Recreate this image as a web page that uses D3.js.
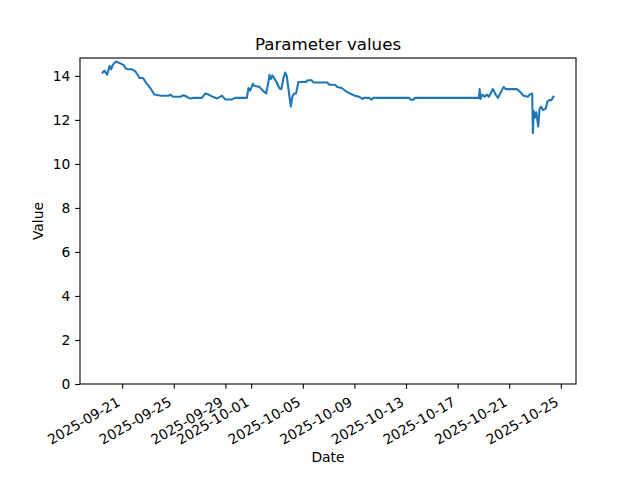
<!DOCTYPE html>
<html><head><meta charset="utf-8">
<script src="https://cdn.jsdelivr.net/npm/d3@7"></script>
<style>body{margin:0;background:#fff}svg{display:block}text{font-family:"DejaVu Sans",sans-serif;fill:#000}</style>
</head><body><svg id="c" width="640" height="480"></svg>
<script>
const dates = ["2025-09-19T11:30","2025-09-19T15:00","2025-09-19T20:00","2025-09-20T00:30","2025-09-20T03:30","2025-09-20T06:30","2025-09-20T12:00","2025-09-20T19:30","2025-09-21T03:00","2025-09-21T06:40","2025-09-21T10:20","2025-09-21T18:30","2025-09-22T00:40","2025-09-22T08:40","2025-09-22T15:00","2025-09-22T21:00","2025-09-23T04:30","2025-09-23T12:00","2025-09-24T00:20","2025-09-24T14:30","2025-09-24T17:40","2025-09-24T22:40","2025-09-25T12:10","2025-09-25T18:20","2025-09-26T00:40","2025-09-26T06:40","2025-09-26T12:50","2025-09-27T04:30","2025-09-27T10:40","2025-09-27T16:40","2025-09-27T23:00","2025-09-28T08:20","2025-09-28T17:40","2025-09-28T23:40","2025-09-29T12:10","2025-09-29T18:20","2025-09-30T16:00","2025-09-30T19:00","2025-09-30T22:10","2025-10-01T03:10","2025-10-01T05:30","2025-10-01T15:20","2025-10-01T21:40","2025-10-02T03:50","2025-10-02T08:10","2025-10-02T10:00","2025-10-02T12:30","2025-10-02T15:30","2025-10-02T18:40","2025-10-02T23:40","2025-10-03T04:30","2025-10-03T08:10","2025-10-03T12:00","2025-10-03T15:10","2025-10-03T18:10","2025-10-03T22:00","2025-10-04T01:40","2025-10-04T04:40","2025-10-04T07:50","2025-10-04T11:30","2025-10-04T15:50","2025-10-04T19:00","2025-10-05T06:10","2025-10-05T09:10","2025-10-05T16:40","2025-10-05T19:40","2025-10-06T21:40","2025-10-07T01:20","2025-10-07T12:00","2025-10-07T16:10","2025-10-08T00:20","2025-10-08T08:20","2025-10-08T15:50","2025-10-09T01:00","2025-10-09T09:00","2025-10-09T15:20","2025-10-09T17:40","2025-10-10T03:30","2025-10-10T08:00","2025-10-10T11:00","2025-10-13T05:50","2025-10-13T08:30","2025-10-13T14:30","2025-10-13T16:30","2025-10-18T15:50","2025-10-18T17:00","2025-10-18T18:30","2025-10-18T22:00","2025-10-19T02:20","2025-10-19T06:40","2025-10-19T10:20","2025-10-19T17:40","2025-10-19T22:50","2025-10-20T03:10","2025-10-20T09:20","2025-10-20T13:40","2025-10-20T17:20","2025-10-20T21:40","2025-10-21T14:20","2025-10-21T19:20","2025-10-22T02:40","2025-10-22T10:40","2025-10-22T13:50","2025-10-22T18:50","2025-10-22T20:00","2025-10-22T21:50","2025-10-22T23:50","2025-10-23T02:20","2025-10-23T06:00","2025-10-23T08:30","2025-10-23T11:30","2025-10-23T14:40","2025-10-23T19:40","2025-10-23T23:20","2025-10-24T03:00","2025-10-24T06:40","2025-10-24T10:20"];
const values = [14.15,14.24,14.05,14.45,14.3,14.5,14.65,14.58,14.49,14.33,14.3,14.3,14.2,13.9,13.9,13.67,13.44,13.15,13.1,13.1,13.15,13.05,13.05,13.12,13.05,12.97,13.0,13.0,13.2,13.15,13.07,12.97,13.1,12.93,12.93,13.0,13.0,13.45,13.33,13.64,13.55,13.5,13.33,13.2,13.74,14.05,13.85,14.02,13.9,13.7,13.44,13.4,13.9,14.15,14.0,13.29,12.6,13.06,13.2,13.2,13.72,13.72,13.72,13.8,13.8,13.7,13.7,13.6,13.6,13.5,13.45,13.3,13.2,13.1,13.05,12.95,13.0,13.0,12.92,13.0,13.0,12.92,12.92,13.0,13.0,13.4,12.95,13.15,13.05,13.15,13.05,13.4,13.15,13.0,13.3,13.5,13.4,13.4,13.4,13.3,13.1,13.05,13.15,13.2,11.4,12.4,12.1,12.35,11.7,12.5,12.6,12.45,12.5,12.85,12.9,12.9,13.05];
const xTickLabels = ["2025-09-21","2025-09-25","2025-09-29","2025-10-01","2025-10-05","2025-10-09","2025-10-13","2025-10-17","2025-10-21","2025-10-25"];
const yTicks = [0,2,4,6,8,10,12,14];
const title = "Parameter values", xLabel = "Date", yLabel = "Value";

const parse = d3.utcParse("%Y-%m-%dT%H:%M");
const parseDay = d3.utcParse("%Y-%m-%d");
const data = dates.map((d,i)=>({t:parse(d), v:values[i]}));

const L=80,R=576,T=58,B=384;
const svg = d3.select("#c");
const ext = d3.extent(data,d=>d.t);
const span = ext[1]-ext[0];
const x = d3.scaleUtc().domain([new Date(+ext[0]-0.05*span), new Date(+ext[1]+0.05*span)]).range([L,R]);
const vmax = d3.max(values), vmin = d3.min(values);
const y = d3.scaleLinear().domain([0, vmax+0.05*(vmax-vmin)]).range([B,T]);

const fs = 13.89;
// x axis
const xa = svg.append("g").attr("transform",`translate(0,${B})`)
  .call(d3.axisBottom(x).tickValues(xTickLabels.map(parseDay)).tickFormat(d3.utcFormat("%Y-%m-%d")).tickSize(4.86).tickPadding(0));
xa.select(".domain").remove();
xa.selectAll(".tick line").attr("stroke","#000").attr("stroke-width",1.1);
xa.selectAll(".tick text").attr("font-size",fs).attr("text-anchor","end").attr("dy",null)
  .attr("y",0).attr("x",0)
  .attr("transform","translate(-1.6,20.8) rotate(-30)");
// y axis
const ya = svg.append("g").attr("transform",`translate(${L},0)`)
  .call(d3.axisLeft(y).tickValues(yTicks).tickFormat(d3.format("d")).tickSize(4.86).tickPadding(4.86));
ya.select(".domain").remove();
ya.selectAll(".tick line").attr("stroke","#000").attr("stroke-width",1.1);
ya.selectAll(".tick text").attr("font-size",fs);

// line
svg.append("path").datum(data).attr("fill","none").attr("stroke","#1f77b4").attr("stroke-width",2.08)
  .attr("stroke-linejoin","round").attr("stroke-linecap","square")
  .attr("d", d3.line().x(d=>x(d.t)).y(d=>y(d.v)));

// frame
svg.append("rect").attr("x",L).attr("y",T).attr("width",R-L).attr("height",B-T)
  .attr("fill","none").attr("stroke","#000").attr("stroke-width",1.1);

svg.append("text").attr("x",(L+R)/2).attr("y",49.5).attr("text-anchor","middle").attr("font-size",16.67).text(title);
svg.append("text").attr("x",(L+R)/2).attr("y",462).attr("text-anchor","middle").attr("font-size",fs).text(xLabel);
svg.append("text").attr("transform",`translate(43,${(T+B)/2}) rotate(-90)`).attr("text-anchor","middle").attr("font-size",fs).text(yLabel);
</script></body></html>
